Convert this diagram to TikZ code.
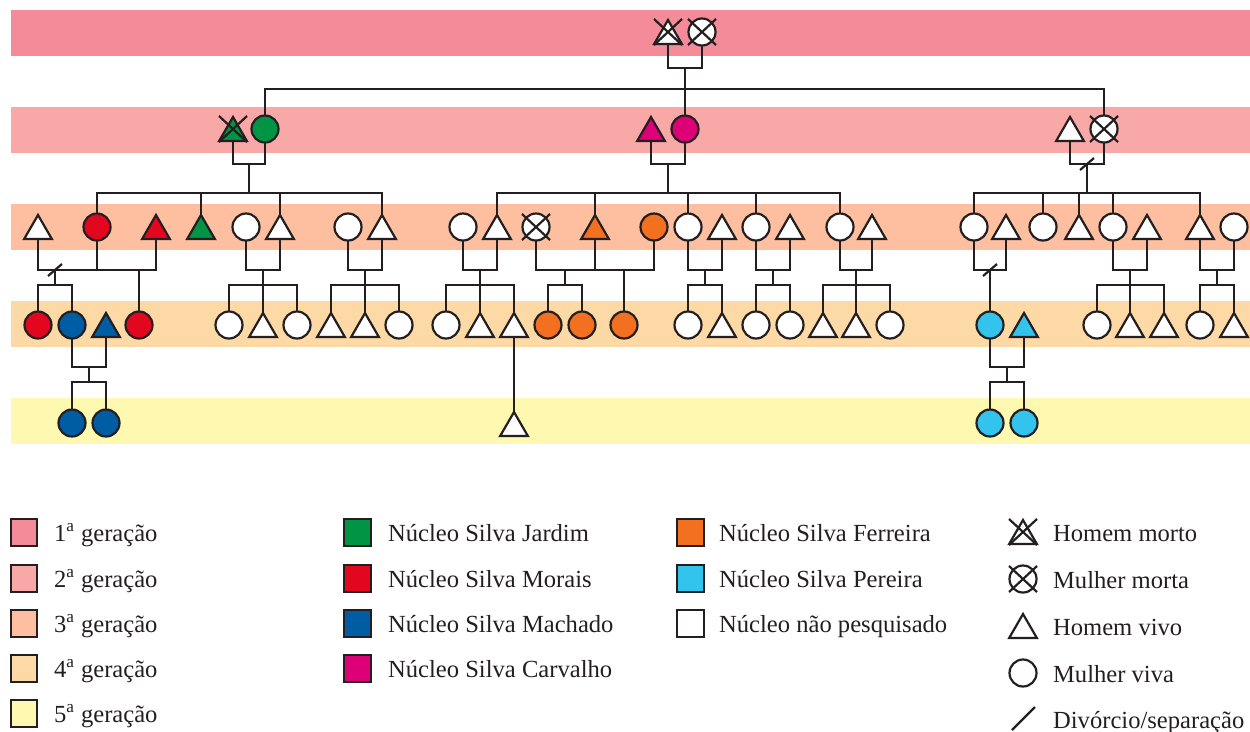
\documentclass[tikz,border=0pt]{standalone}
\usepackage{fontspec}
\setmainfont{Liberation Serif}
\usetikzlibrary{shapes.geometric}

\definecolor{faixaA}{HTML}{F38B99}
\definecolor{faixaB}{HTML}{F9A8A8}
\definecolor{faixaC}{HTML}{FDBF9F}
\definecolor{faixaD}{HTML}{FDD9A6}
\definecolor{faixaE}{HTML}{FFF8B0}
\definecolor{verde}{HTML}{009444}
\definecolor{vermelho}{HTML}{E2071F}
\definecolor{azul}{HTML}{005DA3}
\definecolor{rosa}{HTML}{DD0077}
\definecolor{laranja}{HTML}{F37021}
\definecolor{ciano}{HTML}{33C4EE}
\definecolor{linha}{HTML}{231F20}

\newcommand{\morto}[1]{\draw (#1) +(-14,-13) -- +(14,13) +(-14,13) -- +(14,-13);}
\newcommand{\divorcio}[1]{\draw (#1) +(-7,6) -- +(7,-6);}

\begin{document}
\begin{tikzpicture}[x=0.02cm,y=-0.02cm,line width=1.25pt,color=linha,
    homem/.style={regular polygon,regular polygon sides=3,draw,fill=white,
      minimum size=0.64cm,inner sep=0pt,outer sep=0pt,yshift=-0.08cm},
    mulher/.style={circle,draw,fill=white,minimum size=0.54cm,inner sep=0pt,outer sep=0pt},
    legenda/.style={anchor=base west,inner sep=0pt,font=\fontsize{14}{16}\selectfont}]
  \useasboundingbox (0,0) rectangle (1250,731);

  % faixas das geracoes
  \fill[faixaA] (11,10) rectangle (1250,56);
  \fill[faixaB] (11,107) rectangle (1250,153);
  \fill[faixaC] (11,204) rectangle (1250,250);
  \fill[faixaD] (11,301) rectangle (1250,347);
  \fill[faixaE] (11,398) rectangle (1250,444);

  % geracao 1
  \node[homem] (g1h) at (668,32) {};
  \node[mulher] (g1m) at (702,32) {};
  \morto{[yshift=0.08cm]g1h.center}
  \morto{g1m.center}

  % geracao 2
  \node[homem,fill=verde] (g2a) at (233,129) {};
  \node[mulher,fill=verde] (g2b) at (265,129) {};
  \node[homem,fill=rosa] (g2c) at (651,129) {};
  \node[mulher,fill=rosa] (g2d) at (685,129) {};
  \node[homem] (g2e) at (1070,129) {};
  \node[mulher] (g2f) at (1104,129) {};
  \morto{[yshift=0.08cm]g2a.center}
  \morto{g2f.center}

  % geracao 3
  \node[homem] (g3a) at (38,227) {};
  \node[mulher,fill=vermelho] (g3b) at (97,227) {};
  \node[homem,fill=vermelho] (g3c) at (156,227) {};
  \node[homem,fill=verde] (g3d) at (201,227) {};
  \node[mulher] (g3e) at (246,227) {};
  \node[homem] (g3f) at (280,227) {};
  \node[mulher] (g3g) at (348,227) {};
  \node[homem] (g3h) at (382,227) {};
  \node[mulher] (g3i) at (463,227) {};
  \node[homem] (g3j) at (497,227) {};
  \node[mulher] (g3k) at (536,227) {};
  \node[homem,fill=laranja] (g3l) at (595,227) {};
  \node[mulher,fill=laranja] (g3m) at (654,227) {};
  \node[mulher] (g3n) at (688,227) {};
  \node[homem] (g3o) at (722,227) {};
  \node[mulher] (g3p) at (756,227) {};
  \node[homem] (g3q) at (790,227) {};
  \node[mulher] (g3r) at (840,227) {};
  \node[homem] (g3s) at (872,227) {};
  \node[mulher] (g3t) at (974,227) {};
  \node[homem] (g3u) at (1006,227) {};
  \node[mulher] (g3v) at (1043,227) {};
  \node[homem] (g3w) at (1079,227) {};
  \node[mulher] (g3x) at (1113,227) {};
  \node[homem] (g3y) at (1147,227) {};
  \node[homem] (g3z) at (1200,227) {};
  \node[mulher] (g3zz) at (1234,227) {};
  \morto{g3k.center}

  % geracao 4
  \node[mulher,fill=vermelho] (g4a) at (38,325) {};
  \node[mulher,fill=azul] (g4b) at (72,325) {};
  \node[homem,fill=azul] (g4c) at (106,325) {};
  \node[mulher,fill=vermelho] (g4d) at (139,325) {};
  \node[mulher] (g4e) at (229,325) {};
  \node[homem] (g4f) at (263,325) {};
  \node[mulher] (g4g) at (297,325) {};
  \node[homem] (g4h) at (331,325) {};
  \node[homem] (g4i) at (365,325) {};
  \node[mulher] (g4j) at (399,325) {};
  \node[mulher] (g4k) at (446,325) {};
  \node[homem] (g4l) at (480,325) {};
  \node[homem] (g4m) at (514,325) {};
  \node[mulher,fill=laranja] (g4n) at (548,325) {};
  \node[mulher,fill=laranja] (g4o) at (582,325) {};
  \node[mulher,fill=laranja] (g4p) at (624,325) {};
  \node[mulher] (g4q) at (688,325) {};
  \node[homem] (g4r) at (722,325) {};
  \node[mulher] (g4s) at (756,325) {};
  \node[mulher] (g4t) at (790,325) {};
  \node[homem] (g4u) at (823,325) {};
  \node[homem] (g4v) at (856,325) {};
  \node[mulher] (g4w) at (890,325) {};
  \node[mulher,fill=ciano] (g4x) at (990,325) {};
  \node[homem,fill=ciano] (g4y) at (1024,325) {};
  \node[mulher] (g4z) at (1097,325) {};
  \node[homem] (g4zb) at (1130,325) {};
  \node[homem] (g4zc) at (1164,325) {};
  \node[mulher] (g4zd) at (1200,325) {};
  \node[homem] (g4ze) at (1234,325) {};

  % geracao 5
  \node[mulher,fill=azul] (g5a) at (72,423) {};
  \node[mulher,fill=azul] (g5b) at (106,423) {};
  \node[homem] (g5c) at (514,424) {};
  \node[mulher,fill=ciano] (g5d) at (990,423) {};
  \node[mulher,fill=ciano] (g5e) at (1024,423) {};

  % ligacoes 1 -> 2
  \coordinate (c1) at (685,68);
  \coordinate (s1) at (685,89);
  \draw (g1h.south) |- (c1) -| (g1m.south);
  \draw (c1) -- (g2d.north);
  \draw (g2b.north) |- (s1) -| (g2f.north);

  % ligacoes 2 -> 3
  \coordinate (c2a) at (249,164);
  \coordinate (s2a) at (249,193);
  \draw (g2a.south) |- (c2a) -| (g2b.south);
  \draw (c2a) -- (s2a);
  \draw (g3b.north) |- (s2a) -| (g3h.north);
  \draw (g3d.north) -- (g3d |- s2a);
  \draw (g3f.north) -- (g3f |- s2a);

  \coordinate (c2b) at (668,164);
  \coordinate (s2b) at (668,193);
  \draw (g2c.south) |- (c2b) -| (g2d.south);
  \draw (c2b) -- (s2b);
  \draw (g3j.north) |- (s2b) -| (g3r.north);
  \draw (g3l.north) -- (g3l |- s2b);
  \draw (g3n.north) -- (g3n |- s2b);
  \draw (g3p.north) -- (g3p |- s2b);

  \coordinate (c2c) at (1087,164);
  \coordinate (s2c) at (1087,193);
  \draw (g2e.south) |- (c2c) -| (g2f.south);
  \divorcio{c2c}
  \draw (c2c) -- (s2c);
  \draw (g3t.north) |- (s2c) -| (g3z.north);
  \draw (g3v.north) -- (g3v |- s2c);
  \draw (g3w.north) -- (g3w |- s2c);
  \draw (g3x.north) -- (g3x |- s2c);

  % ligacoes 3 -> 4
  \coordinate (c3a) at (55,270);
  \coordinate (s3a) at (55,285);
  \draw (g3a.south) |- (c3a) -| (g3c.south);
  \draw (g3b.south) -- (g3b |- c3a);
  \divorcio{c3a}
  \draw (c3a) -- (s3a);
  \draw (g4a.north) |- (s3a) -| (g4b.north);
  \draw (g4d.north) -- (g4d |- c3a);

  \coordinate (c3b) at (263,270);
  \coordinate (s3b) at (263,285);
  \draw (g3e.south) |- (c3b) -| (g3f.south);
  \draw (c3b) -- (g4f.north);
  \draw (g4e.north) |- (s3b) -| (g4g.north);

  \coordinate (c3c) at (365,270);
  \coordinate (s3c) at (365,285);
  \draw (g3g.south) |- (c3c) -| (g3h.south);
  \draw (c3c) -- (g4i.north);
  \draw (g4h.north) |- (s3c) -| (g4j.north);

  \coordinate (c3d) at (480,270);
  \coordinate (s3d) at (480,285);
  \draw (g3i.south) |- (c3d) -| (g3j.south);
  \draw (c3d) -- (g4l.north);
  \draw (g4k.north) |- (s3d) -| (g4m.north);

  \coordinate (c3e) at (565,270);
  \coordinate (s3e) at (565,285);
  \draw (g3k.south) |- (c3e) -| (g3m.south);
  \draw (g3l.south) -- (g3l |- c3e);
  \draw (c3e) -- (s3e);
  \draw (g4n.north) |- (s3e) -| (g4o.north);
  \draw (g4p.north) -- (g4p |- c3e);

  \coordinate (c3f) at (705,270);
  \coordinate (s3f) at (705,285);
  \draw (g3n.south) |- (c3f) -| (g3o.south);
  \draw (c3f) -- (s3f);
  \draw (g4q.north) |- (s3f) -| (g4r.north);

  \coordinate (c3g) at (773,270);
  \coordinate (s3g) at (773,285);
  \draw (g3p.south) |- (c3g) -| (g3q.south);
  \draw (c3g) -- (s3g);
  \draw (g4s.north) |- (s3g) -| (g4t.north);

  \coordinate (c3h) at (856,270);
  \coordinate (s3h) at (856,285);
  \draw (g3r.south) |- (c3h) -| (g3s.south);
  \draw (c3h) -- (g4v.north);
  \draw (g4u.north) |- (s3h) -| (g4w.north);

  \coordinate (c3i) at (990,270);
  \draw (g3t.south) |- (c3i) -| (g3u.south);
  \divorcio{c3i}
  \draw (c3i) -- (g4x.north);

  \coordinate (c3j) at (1130,270);
  \coordinate (s3j) at (1130,285);
  \draw (g3x.south) |- (c3j) -| (g3y.south);
  \draw (c3j) -- (g4zb.north);
  \draw (g4z.north) |- (s3j) -| (g4zc.north);

  \coordinate (c3k) at (1217,270);
  \coordinate (s3k) at (1217,285);
  \draw (g3z.south) |- (c3k) -| (g3zz.south);
  \draw (c3k) -- (s3k);
  \draw (g4zd.north) |- (s3k) -| (g4ze.north);

  % ligacoes 4 -> 5
  \coordinate (c4a) at (89,367);
  \coordinate (s4a) at (89,382);
  \draw (g4b.south) |- (c4a) -| (g4c.south);
  \draw (c4a) -- (s4a);
  \draw (g5a.north) |- (s4a) -| (g5b.north);

  \draw (g4m.south) -- (g5c.north);

  \coordinate (c4b) at (1007,367);
  \coordinate (s4b) at (1007,382);
  \draw (g4x.south) |- (c4b) -| (g4y.south);
  \draw (c4b) -- (s4b);
  \draw (g5d.north) |- (s4b) -| (g5e.north);

  % legenda
  \draw[fill=faixaA] (11,519) rectangle (37,546);
  \draw[fill=faixaB] (11,565) rectangle (37,592);
  \draw[fill=faixaC] (11,610) rectangle (37,637);
  \draw[fill=faixaD] (11,655) rectangle (37,682);
  \draw[fill=faixaE] (11,700) rectangle (37,727);
  \node[legenda] (t1) at (53,541) {1\textsuperscript{a} geração};
  \node[legenda] (t2) at (53,587) {2\textsuperscript{a} geração};
  \node[legenda] (t3) at (53,632) {3\textsuperscript{a} geração};
  \node[legenda] (t4) at (53,677) {4\textsuperscript{a} geração};
  \node[legenda] (t5) at (53,722) {5\textsuperscript{a} geração};

  \draw[fill=verde] (344,519) rectangle (371,546);
  \draw[fill=vermelho] (344,565) rectangle (371,592);
  \draw[fill=azul] (344,610) rectangle (371,637);
  \draw[fill=rosa] (344,655) rectangle (371,682);
  \node[legenda] (n1) at (387,541) {Núcleo Silva Jardim};
  \node[legenda] (n2) at (387,587) {Núcleo Silva Morais};
  \node[legenda] (n3) at (387,632) {Núcleo Silva Machado};
  \node[legenda] (n4) at (387,677) {Núcleo Silva Carvalho};

  \draw[fill=laranja] (677,519) rectangle (704,546);
  \draw[fill=ciano] (677,565) rectangle (704,592);
  \draw (677,610) rectangle (704,637);
  \node[legenda] (n5) at (718,541) {Núcleo Silva Ferreira};
  \node[legenda] (n6) at (718,587) {Núcleo Silva Pereira};
  \node[legenda] (n7) at (718,632) {Núcleo não pesquisado};

  \node[homem] (lh1) at (1023,532) {};
  \morto{[yshift=0.08cm]lh1.center}
  \node[mulher] (lm1) at (1023,579) {};
  \morto{lm1.center}
  \node[homem] (lh2) at (1023,626) {};
  \node[mulher] (lm2) at (1023,673) {};
  \draw (1012,730) -- (1035,707);
  \node[legenda] (s1t) at (1052,541) {Homem morto};
  \node[legenda] (s2t) at (1052,588) {Mulher morta};
  \node[legenda] (s3t) at (1052,635) {Homem vivo};
  \node[legenda] (s4t) at (1052,682) {Mulher viva};
  \node[legenda] (s5t) at (1052,728) {Divórcio/separação};
\end{tikzpicture}
\end{document}
